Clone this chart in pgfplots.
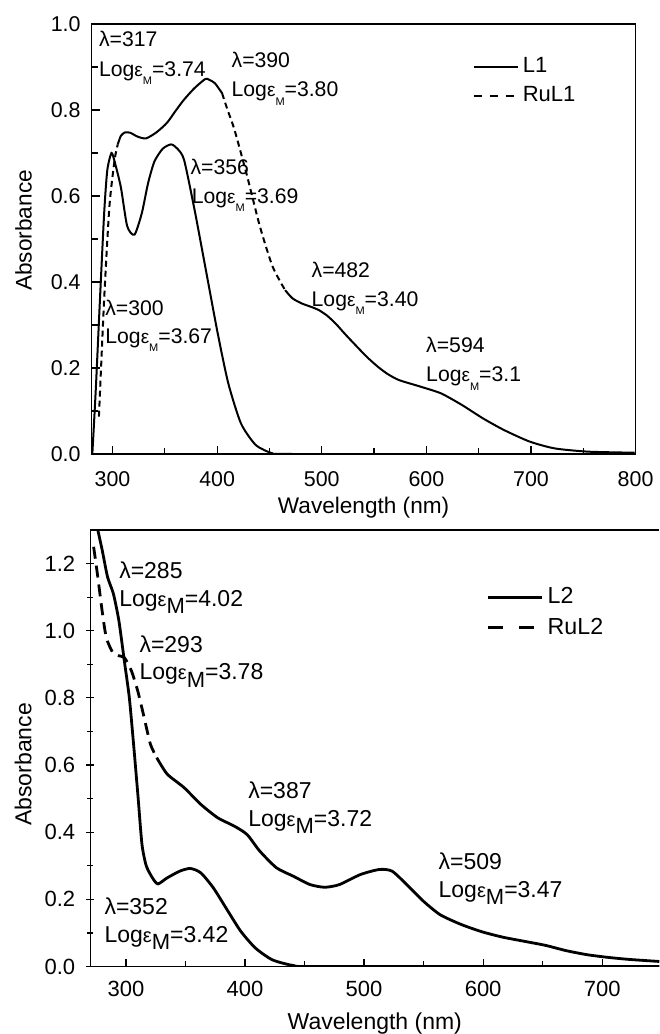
\documentclass[border=0pt]{standalone}
\usepackage{pgfplots}
\pgfplotsset{compat=1.18}
\usepackage{fontspec}
\setmainfont{Liberation Sans}

\newcommand{\lgt}{Log{\fontsize{9.5}{10}\selectfont ε}\raisebox{-4.2pt}{\fontsize{5.5}{5.5}\selectfont M}}
\newcommand{\lgb}{Log{\fontsize{10}{10}\selectfont ε}\raisebox{-3.8pt}{\fontsize{11}{11}\selectfont M}}

\pgfplotsset{
  uv/.style={
    scale only axis, anchor=south west,
    axis line style={line width=0.8pt},
    tick align=inside, xtick pos=bottom, ytick pos=left,
    minor tick num=1, major tick length=4pt, minor tick length=3pt,
    every tick/.style={black, line width=0.6pt},
    /pgf/number format/assume math mode=true,
    yticklabel style={/pgf/number format/fixed, /pgf/number format/fixed zerofill, /pgf/number format/precision=1},
    legend style={draw=none, fill=none, inner sep=0pt, anchor=north west, cells={anchor=west}},
  },
  leg1/.style={legend image code/.code={\draw[##1] (0pt,0pt) -- (22pt,0pt);}},
  leg2/.style={legend image code/.code={\draw[##1] (0pt,0pt) -- (27pt,0pt);}},
}

\begin{document}
\begin{tikzpicture}
\useasboundingbox (0,0) rectangle (329.5pt,517pt);

% ---------- top panel ----------
\begin{axis}[uv, leg1,
  at={(45.8pt,290pt)}, width=272pt, height=215pt,
  xmin=280, xmax=800, ymin=0, ymax=1.0,
  xtick={300,400,...,800}, ytick={0,0.2,...,1.0},
  tick label style={font=\fontsize{10.7}{13}\selectfont},
  xticklabel style={yshift=-5pt}, yticklabel style={xshift=-2pt},
  label style={font=\fontsize{11.3}{13}\selectfont},
  xlabel={Wavelength (nm)}, ylabel={Absorbance},
  xlabel style={at={(axis description cs:0.5,-0.125)}, anchor=center},
  ylabel style={at={(axis description cs:-0.125,0.52)}, anchor=center},
  legend style={at={(axis description cs:0.70,0.932)}, font=\fontsize{11}{13}\selectfont, row sep=1.5pt},
]
\addlegendimage{black, line width=1pt}
\addlegendentry{L1}
\addlegendimage{black, line width=1pt, dash pattern=on 4pt off 4pt}
\addlegendentry{RuL1}

% L1
\addplot[black, line width=1pt, smooth, tension=0.4, forget plot] coordinates {
(280.7,0) (284,0.15) (288,0.36) (292,0.56) (295,0.66) (299,0.70) (302,0.68)
(308,0.62) (314,0.53) (321,0.51) (328,0.56) (334,0.63) (340,0.68) (348,0.71)
(356,0.72) (362,0.71) (368.4,0.684) (378.5,0.567) (388.6,0.436) (400.6,0.28)
(410.7,0.164) (422.8,0.071) (436.9,0.021) (453,0.0015) (470,0) (800,0)
};
% RuL1, dashed parts
\addplot[black, line width=1pt, dash pattern=on 3pt off 2pt, smooth, tension=0.4, forget plot] coordinates {
(287,0.087) (292,0.36) (297,0.575) (302,0.684) (305,0.72)
};
\addplot[black, line width=1pt, dash pattern=on 3pt off 2pt, smooth, tension=0.4, forget plot] coordinates {
(404.7,0.839) (410,0.80) (416.7,0.753) (428.8,0.645) (440.9,0.529) (453,0.436) (465,0.381)
};
% RuL1, solid parts
\addplot[black, line width=1pt, smooth, tension=0.4, forget plot] coordinates {
(305,0.72) (308,0.740) (312,0.748) (317,0.747) (324,0.738) (332,0.734) (342,0.748)
(352,0.77) (360,0.797) (368,0.823) (378,0.85) (388.6,0.872) (392.6,0.870)
(398,0.862) (404.7,0.839)
};
\addplot[black, line width=1pt, smooth, tension=0.4, forget plot] coordinates {
(465,0.381) (472,0.362) (481,0.35) (490,0.342) (497,0.335) (505,0.322) (513,0.304)
(523,0.277) (533.5,0.25) (543,0.226) (553.6,0.203) (563,0.186) (573.7,0.172)
(593.9,0.157) (614,0.141) (634,0.114) (654,0.083) (674,0.056) (698.6,0.029)
(722.7,0.013) (754.9,0.0054) (799,0.003)
};

\def\fa{\fontsize{10.6}{12}\selectfont}
\node[anchor=base west, font=\fa, inner sep=0pt] at (axis cs:286.8,0.947) {λ=317};
\node[anchor=base west, font=\fa, inner sep=0pt] at (axis cs:286.8,0.879) {\lgt=3.74};
\node[anchor=base west, font=\fa, inner sep=0pt] at (axis cs:413.5,0.898) {λ=390};
\node[anchor=base west, font=\fa, inner sep=0pt] at (axis cs:413.5,0.831) {\lgt=3.80};
\node[anchor=base west, font=\fa, inner sep=0pt] at (axis cs:374.2,0.651) {λ=356};
\node[anchor=base west, font=\fa, inner sep=0pt] at (axis cs:375.4,0.583) {\lgt=3.69};
\node[anchor=base west, font=\fa, inner sep=0pt] at (axis cs:490,0.411) {λ=482};
\node[anchor=base west, font=\fa, inner sep=0pt] at (axis cs:490,0.344) {\lgt=3.40};
\node[anchor=base west, font=\fa, inner sep=0pt] at (axis cs:292.8,0.323) {λ=300};
\node[anchor=base west, font=\fa, inner sep=0pt] at (axis cs:292.8,0.257) {\lgt=3.67};
\node[anchor=base west, font=\fa, inner sep=0pt] at (axis cs:599.5,0.236) {λ=594};
\node[anchor=base west, font=\fa, inner sep=0pt] at (axis cs:599.5,0.168) {\lgt=3.1};
\end{axis}

% ---------- bottom panel ----------
\begin{axis}[uv, leg2,
  at={(45.15pt,33.75pt)}, width=284.5pt, height=218.25pt,
  axis x line=box, axis y line=left, axis line style={-, line width=0.8pt},
  xmin=270, xmax=748, ymin=0, ymax=1.3,
  xtick={300,400,...,700}, ytick={0,0.2,...,1.2},
  tick label style={font=\fontsize{11}{14}\selectfont},
  xticklabel style={yshift=-4pt}, yticklabel style={xshift=-2pt},
  label style={font=\fontsize{11.5}{14}\selectfont},
  xlabel={Wavelength (nm)}, ylabel={Absorbance},
  xlabel style={at={(axis description cs:0.5,-0.13)}, anchor=center},
  ylabel style={at={(axis description cs:-0.118,0.463)}, anchor=center},
  legend style={at={(axis description cs:0.696,0.878)}, font=\fontsize{11.6}{14}\selectfont, row sep=1.5pt},
]
\addlegendimage{black, line width=1.5pt}
\addlegendentry{L2}
\addlegendimage{black, line width=1.5pt, dash pattern=on 7.5pt off 8pt}
\addlegendentry{RuL2}

% L2
\addplot[black, line width=1.4pt, smooth, tension=0.4, forget plot] coordinates {
(276.3,1.30) (280,1.24) (284.5,1.16) (289.4,1.11) (294,1.03) (298.6,0.91)
(302.8,0.80) (306.4,0.66) (310,0.51) (313.4,0.364) (317,0.30) (322.2,0.264)
(326.8,0.246) (334.6,0.264) (345.2,0.284) (354,0.292) (362.8,0.279)
(373.4,0.234) (385.8,0.164) (396.4,0.105) (408.7,0.055) (422.9,0.02)
(440.5,0.003) (461.7,0) (748,0)
};
% RuL2 dashed part
\addplot[black, line width=1.4pt, dash pattern=on 6pt off 3.5pt, smooth, tension=0.4, forget plot] coordinates {
(272.8,1.25) (276.3,1.16) (279.9,1.06) (283.4,0.98) (288.7,0.936) (293,0.926)
(298.6,0.92) (304.6,0.88) (309.9,0.82) (315.2,0.742) (320.5,0.662) (325.8,0.622)
};
% RuL2 solid part
\addplot[black, line width=1.4pt, smooth, tension=0.4, forget plot] coordinates {
(325.8,0.622) (334.6,0.573) (348.7,0.533) (362.8,0.483) (377,0.443) (391,0.418)
(401.7,0.393) (412.3,0.344) (426.4,0.294) (440.5,0.269) (454.6,0.244) (467,0.236)
(479.3,0.244) (497,0.274) (512.9,0.289) (523.5,0.284) (535.8,0.244) (550,0.194)
(564,0.154) (581.7,0.125) (599.4,0.103) (617,0.087) (634.7,0.075) (652.3,0.063)
(670,0.047) (687.6,0.035) (705.3,0.027) (723,0.021) (748,0.015)
};

\def\fb{\fontsize{11.5}{13}\selectfont}
\node[anchor=base west, font=\fb, inner sep=0pt] at (axis cs:294,1.155) {λ=285};
\node[anchor=base west, font=\fb, inner sep=0pt] at (axis cs:294,1.073) {\lgb=4.02};
\node[anchor=base west, font=\fb, inner sep=0pt] at (axis cs:311,0.936) {λ=293};
\node[anchor=base west, font=\fb, inner sep=0pt] at (axis cs:311,0.855) {\lgb=3.78};
\node[anchor=base west, font=\fb, inner sep=0pt] at (axis cs:402.4,0.501) {λ=387};
\node[anchor=base west, font=\fb, inner sep=0pt] at (axis cs:402.4,0.418) {\lgb=3.72};
\node[anchor=base west, font=\fb, inner sep=0pt] at (axis cs:562.3,0.289) {λ=509};
\node[anchor=base west, font=\fb, inner sep=0pt] at (axis cs:562.3,0.206) {\lgb=3.47};
\node[anchor=base west, font=\fb, inner sep=0pt] at (axis cs:281.6,0.154) {λ=352};
\node[anchor=base west, font=\fb, inner sep=0pt] at (axis cs:281.6,0.072) {\lgb=3.42};
\end{axis}
\end{tikzpicture}
\end{document}
